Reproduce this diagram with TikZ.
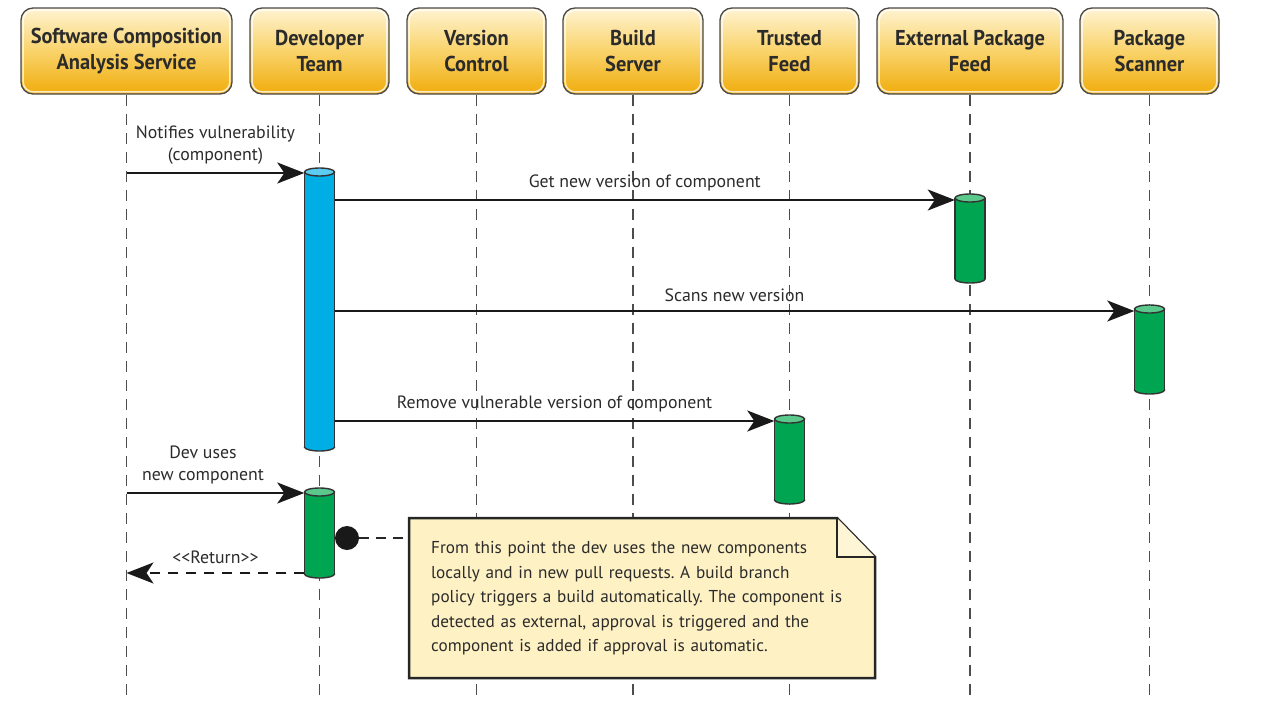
\documentclass[tikz,border=0pt]{standalone}
\usepackage{fontspec}
\setmainfont{PT Sans}
\newfontfamily\hdfont[FakeStretch=0.95]{PT Sans}
\usetikzlibrary{arrows.meta,calc}
\definecolor{hdtop}{HTML}{FFF3D2}
\definecolor{hdmid}{HTML}{F9D36A}
\definecolor{hdbot}{HTML}{F0AC0C}
\definecolor{hdline}{HTML}{4A4A4A}
\definecolor{lline}{HTML}{4D4D4D}
\definecolor{bluebody}{HTML}{00AEE6}
\definecolor{bluetop}{HTML}{5DCCF2}
\definecolor{greenbody}{HTML}{00A551}
\definecolor{greentop}{HTML}{5CC98C}
\definecolor{notefill}{HTML}{FEF1C4}
\definecolor{txt}{HTML}{2B2B2B}
\newcommand\actbar[6]{%
  \node[barnode, minimum height={#4-#3}] (#1) at (#2,{(#3+#4)/2}) {};
  \draw[barline, fill=#5] (#2,#4) ellipse [x radius=15, y radius=4];
  \fill[#5] (#2-15,#3) rectangle (#2+15,#4);
  \draw[barline] (#2-15,#3) -- (#2-15,#4) (#2+15,#3) -- (#2+15,#4);
  \draw[barline, fill=#6] (#2,#3) ellipse [x radius=15, y radius=4];
}
\newcommand\hdglow[1]{%
  \draw[white, opacity=0.75, line width=1.5pt, rounded corners=10pt]
    ($(#1.north west)+(2.8,2.8)$) rectangle ($(#1.south east)+(-2.8,-2.8)$);
}
\begin{document}
\frenchspacing
\begin{tikzpicture}[x=1pt,y=-1pt,
  header/.style={draw=hdline, line width=1.3pt, rounded corners=12pt,
    top color=hdtop, bottom color=hdbot, middle color=hdmid,
    minimum height=86pt, inner sep=0pt, align=center,
    font=\hdfont\bfseries\fontsize{21.5}{26}\selectfont, text=txt},
  lifeline/.style={draw=lline, line width=1.7pt, dash pattern=on 11pt off 8pt},
  barnode/.style={inner sep=0pt, minimum width=30pt, draw=none},
  barline/.style={draw=black!80, line width=1.4pt},
  msg/.style={draw=black!90, line width=2pt, -{Stealth[length=27pt,width=21pt,inset=7pt]}},
  ret/.style={msg, dash pattern=on 10pt off 8pt},
  lbl/.style={font=\fontsize{17.8}{22}\selectfont, text=txt, align=center, inner sep=0pt, above=8pt},
  notebox/.style={draw=black!85, line width=2.5pt, line join=miter},
]
\useasboundingbox (0,0) rectangle (1283,707);

% headers
\node[header, minimum width=211pt] (h1) at (126.5,51) {Software Composition\\Analysis Service};
\node[header, minimum width=139pt] (h2) at (319.5,51) {Developer\\Team};
\node[header, minimum width=139pt] (h3) at (476.5,51) {Version\\Control};
\node[header, minimum width=140pt] (h4) at (633,51) {Build\\Server};
\node[header, minimum width=139pt] (h5) at (789.5,51) {Trusted\\Feed};
\node[header, minimum width=186pt] (h6) at (970,51) {External Package\\Feed};
\node[header, minimum width=139pt] (h7) at (1149.5,51) {Package\\Scanner};
\foreach \i in {1,...,7} { \hdglow{h\i} }

% lifeline ends
\coordinate (e1) at (126.5,695);
\coordinate (e2) at (319.5,695);
\coordinate (e3) at (476.5,695);
\coordinate (e4) at (633,695);
\coordinate (e5) at (789.5,695);
\coordinate (e6) at (970,695);
\coordinate (e7) at (1149.5,695);
\foreach \i in {1,...,7} { \draw[lifeline] (h\i.south) -- (e\i); }

% activation bars
\actbar{dev1}{319.5}{172}{447}{bluebody}{bluetop}
\actbar{ext}{970}{198}{279}{greenbody}{greentop}
\actbar{scan}{1149.5}{309}{390}{greenbody}{greentop}
\actbar{trust}{789.5}{419}{500}{greenbody}{greentop}
\actbar{dev2}{319.5}{492}{574}{greenbody}{greentop}

% message levels
\coordinate (y1) at (0,173);
\coordinate (y2) at (0,200);
\coordinate (y3) at (0,311);
\coordinate (y4) at (0,421);
\coordinate (y5) at (0,493);
\coordinate (y6) at (0,573);

\draw[msg] (h1 |- y1) -- node[lbl] {Notifies vulnerability\\(component)} (dev1.west |- y1);
\draw[msg] (dev1.east |- y2) -- node[lbl] {Get new version of component} (ext.west |- y2);
\draw[msg] (dev1.east |- y3) -- node[lbl] {Scans new version} (scan.west |- y3);
\draw[msg] (dev1.east |- y4) -- node[lbl] {Remove vulnerable version of component} (trust.west |- y4);
\draw[msg] (h1 |- y5) -- node[lbl, pos=0.43] {Dev uses\\new component} (dev2.west |- y5);
\draw[ret] (dev2.west |- y6) -- node[lbl] {<{}<Return>{}>} (h1 |- y6);

% note box
\coordinate (nnw) at (409,518);
\coordinate (nne) at (875,518);
\coordinate (nse) at (875,678);
\coordinate (nsw) at (409,678);
\fill[notefill] (nnw) -- ($(nne)+(-38,0)$) -- ($(nne)+(0,39)$) -- (nse) -- (nsw) -- cycle;
\node[draw=none, minimum width=466pt, minimum height=160pt, inner xsep=22pt,
  text width=422pt, align=left, anchor=north west, text=txt,
  font=\fontsize{17.2}{24.5}\selectfont] (note) at (nnw)
  {From this point the dev uses the new components\\
   locally and in new pull requests. A build branch\\
   policy triggers a build automatically. The component is\\
   detected as external, approval is triggered and the\\
   component is added if approval is automatic.};
\draw[notebox] (nnw) -- ($(nne)+(-38,0)$) -- ($(nne)+(0,39)$) -- (nse) -- (nsw) -- cycle;
\draw[notebox, fill=notefill!70!white] ($(nne)+(-38,0)$) -- ($(nne)+(-38,39)$) -- ($(nne)+(0,39)$);

% dot connector
\node[circle, fill=black!90, inner sep=0pt, minimum size=24pt] (dot) at (347,538) {};
\draw[draw=black!85, line width=2.5pt, dash pattern=on 10pt off 7pt] (dot) -- (note.west |- dot);
\end{tikzpicture}
\end{document}
